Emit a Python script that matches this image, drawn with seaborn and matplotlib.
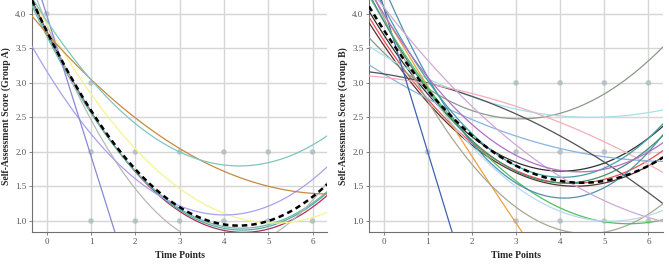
import numpy as np
import pandas as pd
import matplotlib
matplotlib.use("Agg")
import matplotlib.pyplot as plt
from matplotlib.ticker import FormatStrFormatter
import seaborn as sns

knots = [0, 3, 6]

# Group A: fitted quadratic curves, value at t=0, t=3, t=6
a_names = ["mean", "s1", "s2", "s3", "s4", "s5", "s6", "s7", "s8", "s9"]
a_at0 = [3.75, 3.75, 3.72, 3.68, 3.85, 3.85, 3.17, 3.98, 3.72, 3.90]
a_at3 = [1.20, 1.14, 1.16, 1.18, 0.85, 1.47, 1.22, -2.14, 2.05, 2.00]
a_at6 = [1.35, 1.20, 1.24, 1.26, 1.30, 1.05, 1.60, -8.26, 1.40, 2.10]
a_colors = ["black", "#b03050", "#50a8b0", "#70b8a0", "#b8b8b8", "#f4f490",
            "#a8a0f0", "#8888d8", "#c88840", "#80c4c4"]

# Group A observed scores
a_pt_time = [0, 1, 1, 1, 2, 2, 3, 3, 4, 4, 5, 5, 6, 6]
a_pt_score = [4, 3, 2, 1, 2, 1, 2, 1, 2, 1, 2, 1, 2, 1]

# Group B: fitted quadratic curves, value at t=0, t=3, t=6
b_names = ["mean"] + ["s%d" % i for i in range(1, 19)]
b_at0 = [3.77, 3.62, 3.55, 3.70, 3.44, 3.40, 3.13, 3.13, 3.08, 4.10,
         4.00, 3.95, 3.90, 3.90, 4.40, 3.90, 4.10, 4.10, 4.00]
b_at3 = [1.80, 1.73, 1.70, 1.85, 2.48, 2.62, 2.23, 2.55, 2.66, -2.20,
         0.97, 1.20, 1.58, 1.50, 1.55, 1.72, 1.80, 2.10, 1.95]
b_at6 = [1.80, 1.88, 1.80, 2.20, 3.32, 2.57, 1.87, 1.41, 1.82, -8.50,
         -1.70, 1.10, 0.98, 1.08, 2.00, 2.05, 2.20, 1.05, 2.00]
b_colors = ["black", "#e85050", "#5a3030", "#303030", "#8a9a88", "#a8e0e8",
            "#88b4e0", "#505058", "#f0b0b8", "#4060b0", "#f0a040", "#a8a890",
            "#50c060", "#b8d8f0", "#5090b0", "#409070", "#40a0a0", "#d0a8d8",
            "#b070c8"]

# Group B observed scores
b_pt_time = [1, 3, 3, 3, 4, 4, 4, 5, 5, 5, 6, 6, 6]
b_pt_score = [2, 3, 2, 1, 3, 2, 1, 3, 2, 1, 3, 2, 1]

sns.set_style("white")
plt.rcParams['font.family'] = ['Liberation Serif', 'DejaVu Serif']


def long_table(names, at0, at3, at6):
    rows = []
    for n, v0, v3, v6 in zip(names, at0, at3, at6):
        for t, v in zip(knots, [v0, v3, v6]):
            rows.append({"curve": n, "time": t, "score": v})
    return pd.DataFrame(rows)


def draw_panel(ax, names, at0, at3, at6, colors, pt_t, pt_s, ylab):
    ax.set_xlim(-0.33, 6.33)
    ax.set_ylim(0.84, 4.2)
    df = long_table(names, at0, at3, at6)
    sns.scatterplot(x=pt_t, y=pt_s, ax=ax, color="#a8b8bc", s=16,
                    alpha=0.75, edgecolor="none", zorder=2)
    for n, c in zip(names[1:], colors[1:]):
        sub = df[df.curve == n]
        sns.regplot(data=sub, x="time", y="score", order=2, ci=None,
                    scatter=False, truncate=False, ax=ax,
                    line_kws=dict(color=c, lw=0.9, zorder=3))
    sub = df[df.curve == names[0]]
    sns.regplot(data=sub, x="time", y="score", order=2, ci=None,
                scatter=False, truncate=False, ax=ax,
                line_kws=dict(color="black", lw=1.8, ls=(0, (2.2, 1.6)), zorder=5))
    ax.set_xlim(-0.33, 6.33)
    ax.set_ylim(0.84, 4.2)
    ax.set_xticks(range(7))
    ax.set_yticks([1.0, 1.5, 2.0, 2.5, 3.0, 3.5, 4.0])
    ax.yaxis.set_major_formatter(FormatStrFormatter('%.1f'))
    ax.grid(True, color="#d6d6d6", lw=1.0)
    ax.set_axisbelow(True)
    for s in ["top", "right"]:
        ax.spines[s].set_visible(False)
    for s in ["left", "bottom"]:
        ax.spines[s].set_color("#707070")
        ax.spines[s].set_linewidth(0.8)
    ax.tick_params(axis="both", length=2.5, width=0.6, color="#707070",
                   labelsize=6.5, labelcolor="#555555", pad=1.5,
                   bottom=True, left=True)
    ax.set_xlabel("Time Points", fontsize=7, fontweight="bold", labelpad=4)
    ax.set_ylabel(ylab, fontsize=7, fontweight="bold", labelpad=3)


fig = plt.figure(figsize=(6.69, 2.64), dpi=100)
ax1 = fig.add_axes([0.048, 0.121, 0.441, 0.879])
ax2 = fig.add_axes([0.5516, 0.121, 0.4395, 0.879])

draw_panel(ax1, a_names, a_at0, a_at3, a_at6, a_colors, a_pt_time, a_pt_score,
           "Self-Assessment Score (Group A)")
draw_panel(ax2, b_names, b_at0, b_at3, b_at6, b_colors, b_pt_time, b_pt_score,
           "Self-Assessment Score (Group B)")

fig.savefig("out.png", dpi=100)
